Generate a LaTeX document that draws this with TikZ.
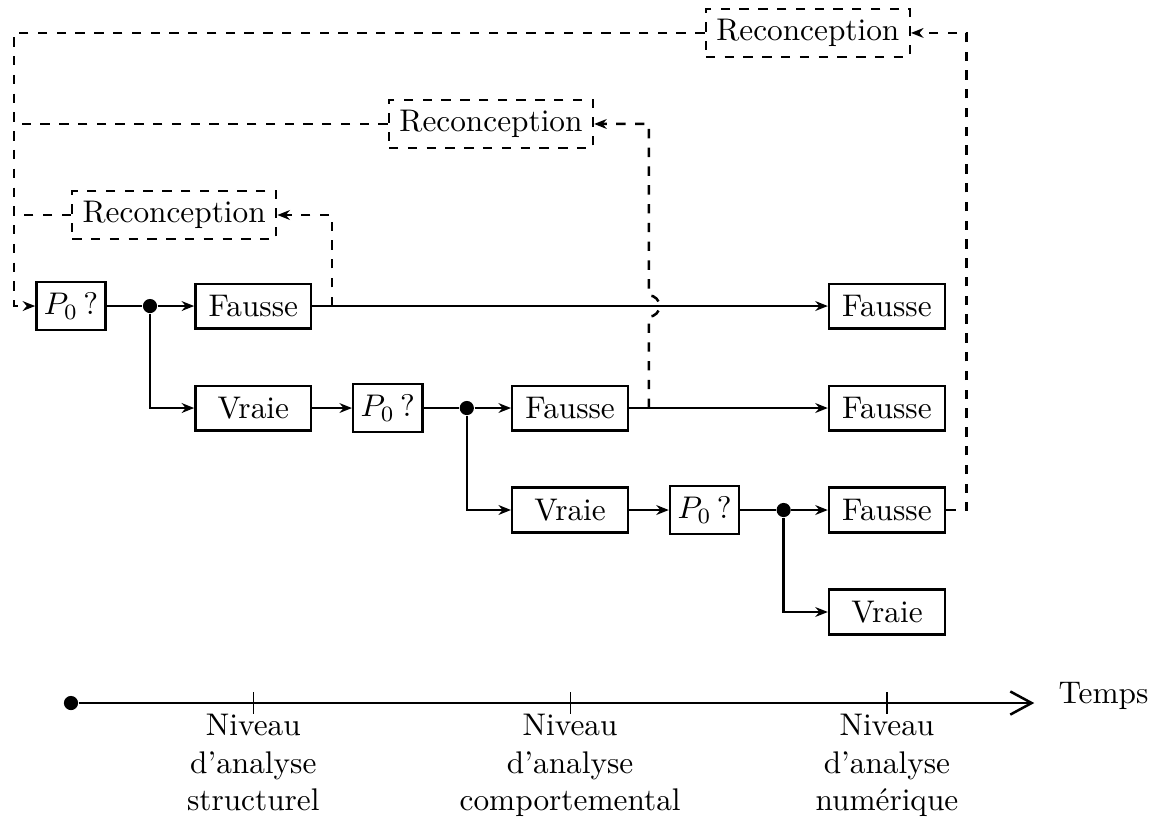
\documentclass[tikz,border=0pt]{standalone}
\usetikzlibrary{arrows.meta,positioning}

\begin{document}
\begin{tikzpicture}[
  node distance=1.145cm and 1.16cm, on grid,
  test/.style={draw,rectangle,thick,inner xsep=2.4pt,minimum height=0.5cm},
  etat/.style={draw,rectangle,thick,minimum width=1.3cm,minimum height=0.5cm},
  reconc/.style={draw,rectangle,thick,dashed,minimum height=0.5cm},
  point/.style={circle,fill,inner sep=1.6pt},
  ligne/.style={thick},
  pointille/.style={thick,dashed},
  fleche/.style={-{Stealth[length=1.4mm,width=1.1mm]},thick},
  retour/.style={-{Stealth[length=1.4mm,width=1.1mm]},thick,dashed},
  axe/.style={-{Straight Barb[length=2.4mm,width=2.6mm]},thick}
]
\useasboundingbox (0,0) rectangle (12.9,-9.185);

% niveau structurel
\node[test] (p1) at (0.797,-3.436) {$P_0$\,?};
\node[point,right=0.887cm of p1] (d1) {};
\node[etat,right=1.16cm of d1] (f1) {Fausse};
\node[etat,below=of f1] (v1) {Vraie};

% niveau comportemental
\node[test,right=1.51cm of v1] (p2) {$P_0$\,?};
\node[point,right=0.887cm of p2] (d2) {};
\node[etat,right=1.16cm of d2] (f2) {Fausse};
\node[etat,below=of f2] (v2) {Vraie};

% niveau numerique
\node[test,right=1.51cm of v2] (p3) {$P_0$\,?};
\node[point,right=0.887cm of p3] (d3) {};
\node[etat,right=1.16cm of d3] (f3) {Fausse};
\node[etat,below=of f3] (v3) {Vraie};
\node[etat] (fa) at (f3 |- f1) {Fausse};
\node[etat] (fb) at (f3 |- f2) {Fausse};

% reconceptions
\node[reconc,anchor=west,yshift=1.022cm] (r1) at (p1.center) {Reconception};
\node[reconc,anchor=west,yshift=1.022cm] (r2) at (p2 |- r1) {Reconception};
\node[reconc,anchor=west,yshift=1.022cm] (r3) at (p3 |- r2) {Reconception};
\coordinate[right=0.22cm of f1.east] (b1);
\coordinate[right=0.22cm of f2.east] (b2);
\coordinate[right=0.23cm of f3.east] (b3);
\coordinate[left=0.64cm of p1] (g);

\draw[ligne] (p1) -- (d1);
\draw[fleche] (d1) -- (f1);
\draw[fleche] (d1) |- (v1);
\draw[fleche] (f1) -- (fa);
\draw[fleche] (v1) -- (p2);
\draw[ligne] (p2) -- (d2);
\draw[fleche] (d2) -- (f2);
\draw[fleche] (d2) |- (v2);
\draw[fleche] (f2) -- (fb);
\draw[fleche] (v2) -- (p3);
\draw[ligne] (p3) -- (d3);
\draw[fleche] (d3) -- (f3);
\draw[fleche] (d3) |- (v3);

\draw[retour] (b1) |- (r1);
\draw[retour] (b2) -- ([yshift=-0.12cm]b2 |- f1) arc[start angle=-90,end angle=90,radius=0.12cm] |- (r2);
\draw[retour] (f3) -- (b3) |- (r3);
\draw[retour] (r3) -| (g) -- (p1);
\draw[pointille] (r2) -- (r2 -| g);
\draw[pointille] (r1) -- (r1 -| g);

% axe du temps
\coordinate[below=1.022cm of v3] (n3);
\coordinate (n1) at (f1 |- n3);
\coordinate (n2) at (f2 |- n3);
\coordinate[right=1.654cm of n3] (fin);
\node[point] (t0) at (p1 |- n3) {};
\draw[axe] (t0) -- (fin);
\foreach \n in {n1,n2,n3}
  \draw ([yshift=0.12cm]\n) -- ([yshift=-0.12cm]\n);
\node[below,align=center] (l1) at (n1) {Niveau\\d'analyse\\structurel};
\node[below,align=center] (l2) at (n2) {Niveau\\d'analyse\\comportemental};
\node[below,align=center] (l3) at (n3) {Niveau\\d'analyse\\numérique};
\node[anchor=base west,xshift=0.15cm] (temps) at (fin) {Temps};

\end{tikzpicture}
\end{document}
